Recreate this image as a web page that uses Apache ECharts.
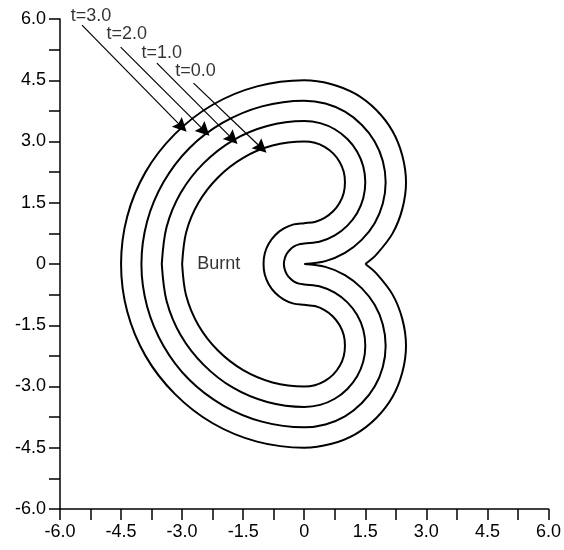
<!DOCTYPE html>
<html>
<head>
<meta charset="utf-8">
<script src="https://cdn.jsdelivr.net/npm/echarts@6.0.0/dist/echarts.min.js"></script>
<style>
  html, body { margin: 0; padding: 0; background: #fff; }
  #main { width: 564px; height: 550px; }
</style>
</head>
<body>
<div id="main"></div>
<script>
// tick labels (shown every 1.5, ticks every 0.75)
var xTickValues = [-6, -4.5, -3, -1.5, 0, 1.5, 3, 4.5, 6];
var xTickLabels = ['-6.0', '-4.5', '-3.0', '-1.5', '0', '1.5', '3.0', '4.5', '6.0'];
var yTickValues = [-6, -4.5, -3, -1.5, 0, 1.5, 3, 4.5, 6];
var yTickLabels = ['-6.0', '-4.5', '-3.0', '-1.5', '0', '1.5', '3.0', '4.5', '6.0'];

// front positions
var curveT0 = [
  [-3, 0], [-2.90, 0.78], [-2.60, 1.50], [-2.12, 2.12], [-1.50, 2.60], [-0.78, 2.90], [0, 3],
  [0.26, 2.97], [0.50, 2.87], [0.71, 2.71], [0.87, 2.50], [0.97, 2.26], [1.00, 2.00],
  [0.97, 1.74], [0.87, 1.50], [0.71, 1.29], [0.50, 1.13], [0.26, 1.03], [0, 1.00],
  [-0.26, 0.97], [-0.50, 0.87], [-0.71, 0.71], [-0.87, 0.50], [-0.97, 0.26], [-1.00, 0],
  [-0.97, -0.26], [-0.87, -0.50], [-0.71, -0.71], [-0.50, -0.87], [-0.26, -0.97], [0, -1],
  [0.26, -1.03], [0.50, -1.13], [0.71, -1.29], [0.87, -1.50], [0.97, -1.74], [1.00, -2.00],
  [0.97, -2.26], [0.87, -2.50], [0.71, -2.71], [0.50, -2.87], [0.26, -2.97], [0, -3],
  [-0.78, -2.90], [-1.50, -2.60], [-2.12, -2.12], [-2.60, -1.50], [-2.90, -0.78], [-3, 0]
];
var curveT1 = [
  [-3.5, 0], [-3.38, 0.91], [-3.03, 1.75], [-2.47, 2.47], [-1.75, 3.03], [-0.91, 3.38], [0, 3.5],
  [0.39, 3.45], [0.75, 3.30], [1.06, 3.06], [1.30, 2.75], [1.45, 2.39], [1.50, 2.00],
  [1.45, 1.61], [1.30, 1.25], [1.06, 0.94], [0.75, 0.70], [0.39, 0.55], [0, 0.50],
  [-0.13, 0.48], [-0.25, 0.43], [-0.35, 0.35], [-0.43, 0.25], [-0.48, 0.13], [-0.50, 0],
  [-0.48, -0.13], [-0.43, -0.25], [-0.35, -0.35], [-0.25, -0.43], [-0.13, -0.48], [0, -0.50],
  [0.39, -0.55], [0.75, -0.70], [1.06, -0.94], [1.30, -1.25], [1.45, -1.61], [1.50, -2.00],
  [1.45, -2.39], [1.30, -2.75], [1.06, -3.06], [0.75, -3.30], [0.39, -3.45], [0, -3.5],
  [-0.91, -3.38], [-1.75, -3.03], [-2.47, -2.47], [-3.03, -1.75], [-3.38, -0.91], [-3.5, 0]
];
var curveT2 = [
  [0, 0], [0.52, 0.07], [1.00, 0.27], [1.41, 0.59], [1.73, 1.00], [1.93, 1.48], [2.00, 2.00],
  [1.93, 2.52], [1.73, 3.00], [1.41, 3.41], [1.00, 3.73], [0.52, 3.93], [0, 4],
  [-1.04, 3.86], [-2.00, 3.46], [-2.83, 2.83], [-3.46, 2.00], [-3.86, 1.04], [-4, 0],
  [-3.86, -1.04], [-3.46, -2.00], [-2.83, -2.83], [-2.00, -3.46], [-1.04, -3.86], [0, -4],
  [0.52, -3.93], [1.00, -3.73], [1.41, -3.41], [1.73, -3.00], [1.93, -2.52], [2.00, -2.00],
  [1.93, -1.48], [1.73, -1.00], [1.41, -0.59], [1.00, -0.27], [0.52, -0.07], [0, 0]
];
var curveT3 = [
  [1.50, 0], [1.77, 0.23], [2.17, 0.75], [2.41, 1.35], [2.50, 2.00],
  [2.41, 2.65], [2.17, 3.25], [1.77, 3.77], [1.25, 4.17], [0.65, 4.41], [0, 4.5],
  [-1.16, 4.35], [-2.25, 3.90], [-3.18, 3.18], [-3.90, 2.25], [-4.35, 1.16], [-4.5, 0],
  [-4.35, -1.16], [-3.90, -2.25], [-3.18, -3.18], [-2.25, -3.90], [-1.16, -4.35], [0, -4.5],
  [0.65, -4.41], [1.25, -4.17], [1.77, -3.77], [2.17, -3.25], [2.41, -2.65], [2.50, -2.00],
  [2.41, -1.35], [2.17, -0.75], [1.77, -0.23], [1.50, 0]
];

// annotations
var noteNames = ['t=3.0', 't=2.0', 't=1.0', 't=0.0'];
var notePos = [[-5.24, 6.07], [-4.36, 5.63], [-3.50, 5.17], [-2.67, 4.73]];
var arrowFrom = [[-5.46, 5.85], [-4.51, 5.31], [-3.62, 4.92], [-2.72, 4.43]];
var arrowTo = [[-3.01, 3.36], [-2.45, 3.26], [-1.76, 3.06], [-1.05, 2.84]];
var regionName = 'Burnt';
var regionPos = [-2.1, 0];

var FONT = 'Liberation Sans';

function tickFormatter(values, labels) {
  return function (v) {
    for (var i = 0; i < values.length; i++) {
      if (Math.abs(values[i] - v) < 1e-6) return labels[i];
    }
    return '';
  };
}

function curve(data) {
  return {
    type: 'line',
    data: data,
    smooth: 0.33,
    symbol: 'none',
    clip: false,
    lineStyle: { color: '#000', width: 2 },
    silent: true
  };
}

function axis(values, labels) {
  return {
    type: 'value',
    min: -6,
    max: 6,
    interval: 0.75,
    axisLine: { show: true, onZero: false, lineStyle: { color: '#000', width: 1.5 } },
    axisTick: { show: true, inside: false, length: 11, lineStyle: { color: '#000', width: 1.5 } },
    axisLabel: {
      color: '#000',
      fontSize: 18,
      fontFamily: FONT,
      margin: 14,
      formatter: tickFormatter(values, labels)
    },
    splitLine: { show: false }
  };
}

var chart = echarts.init(document.getElementById('main'));

var notes = noteNames.map(function (n, i) {
  return { name: n, value: notePos[i] };
});
notes.push({ name: regionName, value: regionPos });

var arrows = arrowFrom.map(function (p, i) {
  return { coords: [p, arrowTo[i]] };
});

chart.setOption({
  animation: false,
  backgroundColor: '#fff',
  grid: { left: 60, top: 19, width: 490, height: 490 },
  xAxis: axis(xTickValues, xTickLabels),
  yAxis: axis(yTickValues, yTickLabels),
  series: [
    curve(curveT0),
    curve(curveT1),
    curve(curveT2),
    curve(curveT3),
    {
      type: 'lines',
      coordinateSystem: 'cartesian2d',
      data: arrows,
      symbol: ['none', 'path://M5,0 L10,24 L5,20 L0,24 Z'],
      symbolSize: [6, 14],
      lineStyle: { color: '#000', width: 1.2, opacity: 1 },
      silent: true
    },
    {
      type: 'scatter',
      data: notes,
      symbolSize: 1,
      clip: false,
      itemStyle: { color: 'rgba(0,0,0,0)' },
      label: {
        show: true,
        position: 'inside',
        formatter: '{b}',
        color: '#000',
        fontSize: 18,
        fontFamily: FONT
      },
      silent: true
    }
  ]
});
</script>
</body>
</html>
